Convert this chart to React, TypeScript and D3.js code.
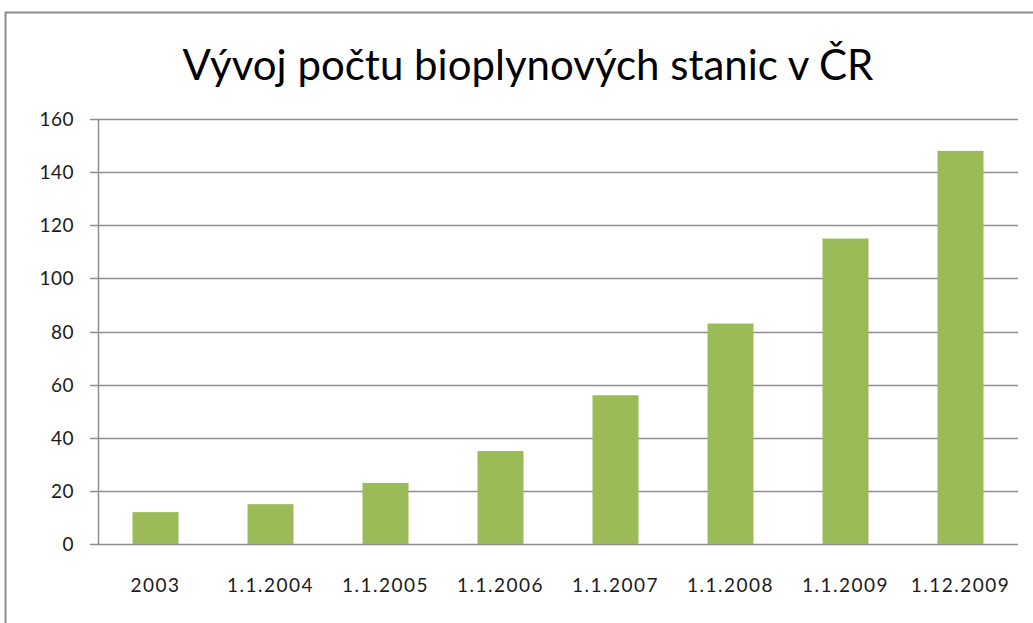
import React, { useEffect, useRef } from 'react'
import * as d3 from 'd3'

const categories = ['2003', '1.1.2004', '1.1.2005', '1.1.2006', '1.1.2007', '1.1.2008', '1.1.2009', '1.12.2009']
const stations = [12, 15, 23, 35, 56, 83, 115, 148]
const yTicks = [0, 20, 40, 60, 80, 100, 120, 140, 160]
const title = 'Vývoj počtu bioplynových stanic v ČR'

export default function App() {
  const ref = useRef<SVGSVGElement>(null)

  useEffect(() => {
    const svg = d3.select(ref.current)
    svg.selectAll('*').remove()

    const width = 1033, height = 623
    const margin = { top: 119, right: 15, bottom: 79, left: 98 }
    const font = 'Lato, "Open Sans", sans-serif'

    // frame
    svg.append('path')
      .attr('d', `M5.5,${height}V12.5H${width}`)
      .attr('fill', 'none').attr('stroke', '#8c8c8c').attr('stroke-width', 2)

    svg.append('text')
      .attr('x', 528).attr('y', 80)
      .attr('text-anchor', 'middle')
      .attr('font-family', font).attr('font-size', 42)
      .attr('fill', '#000')
      .text(title)

    const x = d3.scaleBand().domain(categories).range([margin.left, width - margin.right]).paddingInner(0.6).paddingOuter(0.3)
    const y = d3.scaleLinear().domain([0, 160]).range([height - margin.bottom, margin.top])

    // gridlines
    svg.append('g').selectAll('line').data(yTicks).join('line')
      .attr('x1', margin.left - 8).attr('x2', width - margin.right)
      .attr('y1', d => Math.round(y(d)) + 0.5).attr('y2', d => Math.round(y(d)) + 0.5)
      .attr('stroke', '#8e8e8e').attr('stroke-width', 1.5)

    // y axis line
    svg.append('line')
      .attr('x1', margin.left + 0.5).attr('x2', margin.left + 0.5)
      .attr('y1', y(160)).attr('y2', y(0))
      .attr('stroke', '#8e8e8e').attr('stroke-width', 1.5)

    svg.append('g').selectAll('text').data(yTicks).join('text')
      .attr('x', 74).attr('y', d => y(d) + 7)
      .attr('text-anchor', 'end')
      .attr('font-family', font).attr('font-size', 19)
      .attr('letter-spacing', 0.5)
      .attr('fill', '#1a1a1a')
      .text(d => d)

    svg.append('g').selectAll('rect').data(stations).join('rect')
      .attr('x', (d, i) => x(categories[i])!)
      .attr('width', x.bandwidth())
      .attr('y', d => y(d))
      .attr('height', d => y(0) - y(d))
      .attr('fill', '#9bbb59')

    const step = x.step()
    svg.append('g').selectAll('text').data(categories).join('text')
      .attr('x', (d, i) => margin.left + step * (i + 0.5))
      .attr('y', 592)
      .attr('text-anchor', 'middle')
      .attr('font-family', font).attr('font-size', 19)
      .attr('letter-spacing', 1.5)
      .attr('fill', '#1a1a1a')
      .text(d => d)
  }, [])

  return <svg ref={ref} width={1033} height={623} style={{ position: 'absolute', left: 0, top: 0, background: '#fff' }} />
}
